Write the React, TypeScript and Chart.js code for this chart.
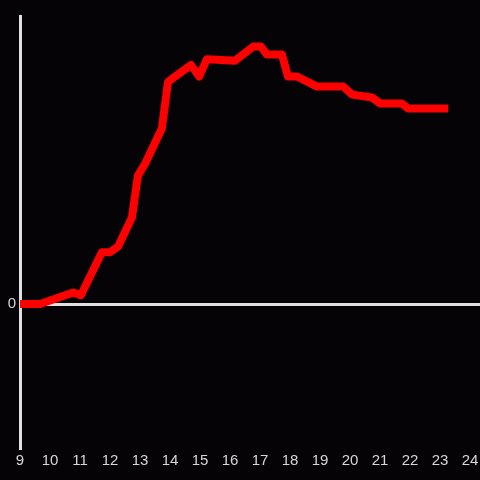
import React, { useEffect, useRef } from "react";
import { Chart, registerables } from "chart.js";

Chart.register(...registerables);

const hours = [9.0, 9.67, 10.77, 11.03, 11.73, 12.0, 12.27, 12.73, 12.93, 13.17, 13.73, 13.93, 14.17, 14.7, 14.97, 15.23, 16.17, 16.77, 17.03, 17.23, 17.73, 17.93, 18.23, 18.9, 19.77, 20.07, 20.73, 21.0, 21.73, 21.93, 23.27];
const values = [0, 0, 4, 3, 18, 18, 20, 30, 44.6, 48.7, 61, 77, 79, 83, 79, 85, 84.5, 89.4, 89.4, 86.6, 86.6, 79, 79, 75.5, 75.5, 72.7, 71.7, 69.6, 69.6, 67.9, 67.9];
const yTickValues = [0];

export default function App() {
  const ref = useRef<HTMLCanvasElement>(null);
  useEffect(() => {
    document.body.style.margin = "0";
    document.body.style.background = "#050305";
    const ctx = ref.current!;
    const chart = new Chart(ctx, {
      type: "line",
      data: {
        datasets: [
          {
            data: hours.map((h, i) => ({ x: h, y: values[i] })),
            borderColor: "#ff0000",
            borderWidth: 8,
            pointRadius: 0,
            tension: 0,
            fill: false,
            borderJoinStyle: "round",
          },
        ],
      },
      options: {
        animation: false,
        responsive: false,
        maintainAspectRatio: false,
        layout: { padding: { top: 16, right: 0, left: 0, bottom: 0 } },
        plugins: { legend: { display: false }, tooltip: { enabled: false } },
        scales: {
          x: {
            type: "linear",
            min: 9,
            max: 24.33,
            grid: { display: false, drawTicks: false, tickLength: 0 },
            border: { display: false },
            ticks: {
              stepSize: 1,
              color: "#d8d8d8",
              font: { size: 15, family: "Liberation Sans" },
              padding: 4,
              maxRotation: 0,
              callback: (v: any) => (Number.isInteger(v) ? String(v) : ""),
            },
            afterBuildTicks: (axis: any) => {
              const t = [];
              for (let i = 9; i <= 24; i++) t.push({ value: i });
              axis.ticks = t;
            },
            afterFit: (axis: any) => {
              axis.height = 32;
              axis.paddingLeft = 0;
              axis.paddingRight = 0;
            },
          },
          y: {
            min: -50,
            max: 100,
            grid: { color: "#e0e0e0", lineWidth: 3, drawTicks: false, tickLength: 0 },
            border: { display: true, color: "#e0e0e0", width: 3 },
            ticks: {
              color: "#d8d8d8",
              font: { size: 15, family: "Liberation Sans" },
              padding: 4,
            },
            afterBuildTicks: (axis: any) => {
              axis.ticks = yTickValues.map((v) => ({ value: v }));
            },
            afterFit: (axis: any) => {
              axis.width = 20;
              axis.paddingTop = 0;
              axis.paddingBottom = 0;
            },
          },
        },
      },
    });
    return () => chart.destroy();
  }, []);
  return (
    <div style={{ width: 480, height: 480, background: "#050305" }}>
      <canvas ref={ref} width={480} height={480} style={{ display: "block" }} />
    </div>
  );
}
